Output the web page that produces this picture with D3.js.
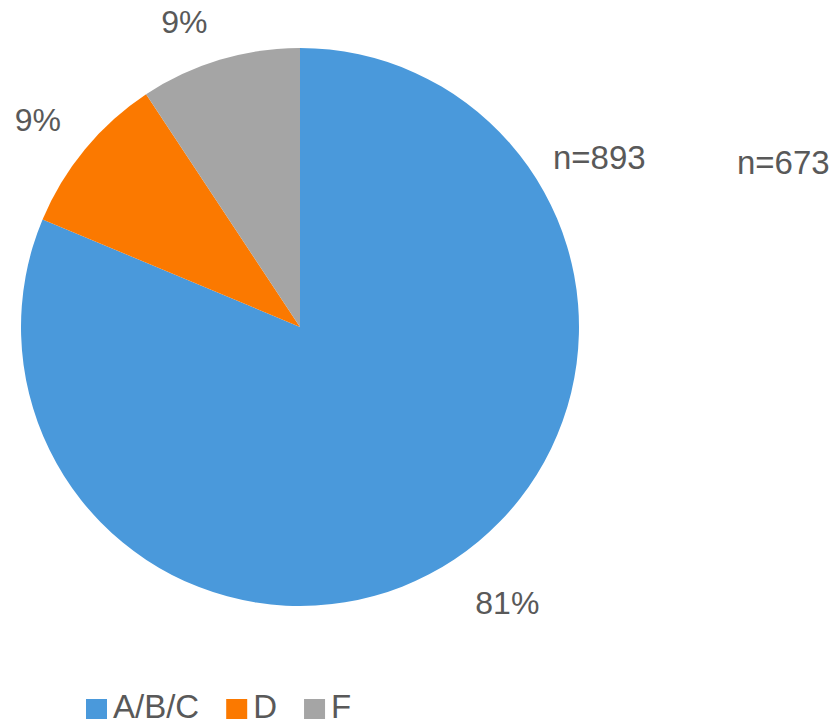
<!DOCTYPE html>
<html lang="en">
<head>
<meta charset="UTF-8">
<script src="https://d3js.org/d3.v7.min.js"></script>
<style>
  body { margin: 0; background: #fff; }
  text { font-family: "Liberation Sans", Arial, sans-serif; fill: #595959; }
</style>
</head>
<body>
<div id="chart"></div>
<script>
  const categories = ["A/B/C", "D", "F"];
  const values = [81.3, 9.4, 9.3];
  const valueLabels = ["81%", "9%", "9%"];
  const colors = ["#4a99db", "#fb7900", "#a5a5a5"];
  const notes = ["n=893", "n=673"];

  const W = 833, H = 724;
  const cx = 300, cy = 327, r = 279;

  const svg = d3.select("#chart").append("svg")
    .attr("width", W).attr("height", H);

  const pie = d3.pie().sort(null).value(d => d)(values);
  const arc = d3.arc().innerRadius(0).outerRadius(r);

  const g = svg.append("g").attr("transform", `translate(${cx},${cy})`);

  g.selectAll("path").data(pie).join("path")
    .attr("d", arc)
    .attr("fill", (d, i) => colors[i]);

  // data labels outside the slices
  const labelR = [r + 68, r + 56, r + 46];
  const nudge = [[15, -13], [-4, 7], [-22, 6]];
  g.selectAll("text.lbl").data(pie).join("text")
    .attr("class", "lbl")
    .attr("text-anchor", "middle")
    .attr("dominant-baseline", "central")
    .attr("font-size", 32)
    .attr("x", (d, i) => Math.sin((d.startAngle + d.endAngle) / 2) * labelR[i] + nudge[i][0])
    .attr("y", (d, i) => -Math.cos((d.startAngle + d.endAngle) / 2) * labelR[i] + nudge[i][1])
    .text((d, i) => valueLabels[i]);

  // sample size notes
  svg.selectAll("text.note").data(notes).join("text")
    .attr("class", "note")
    .attr("font-size", 33)
    .attr("x", (d, i) => [553, 737][i])
    .attr("y", (d, i) => [169, 174][i])
    .text(d => d);

  // legend
  const legend = svg.append("g").attr("transform", "translate(86,699)");
  let lx = 0;
  categories.forEach((c, i) => {
    const item = legend.append("g").attr("transform", `translate(${lx},0)`);
    item.append("rect").attr("width", 21).attr("height", 20).attr("fill", colors[i]);
    const t = item.append("text")
      .attr("x", 27).attr("y", 19)
      .attr("font-size", 33)
      .text(c);
    lx += 27 + t.node().getComputedTextLength() + 27;
  });
</script>
</body>
</html>
